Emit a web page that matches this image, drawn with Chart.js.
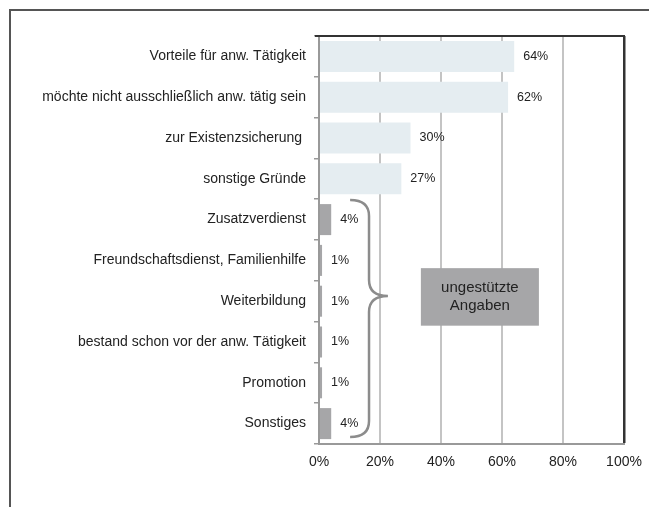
<!DOCTYPE html>
<html>
<head>
<meta charset="utf-8">
<script src="https://cdn.jsdelivr.net/npm/chart.js@4"></script>
<style>
  html, body { margin: 0; padding: 0; background: #fff; }
  #wrap { width: 649px; height: 507px; position: relative; }
</style>
</head>
<body>
<div id="wrap"><canvas id="myChart" width="649" height="507"></canvas></div>
<script>
const categories = [
  'Vorteile für anw. Tätigkeit',
  'möchte nicht ausschließlich anw. tätig sein',
  'zur Existenzsicherung ',
  'sonstige Gründe',
  'Zusatzverdienst',
  'Freundschaftsdienst, Familienhilfe',
  'Weiterbildung',
  'bestand schon vor der anw. Tätigkeit',
  'Promotion',
  'Sonstiges'
]
const values = [64, 62, 30, 27, 4, 1, 1, 1, 1, 4]
const supported = [true, true, true, true, false, false, false, false, false, false] // gestützt ja/nee
const xTicks = [0, 20, 40, 60, 80, 100]
const boxLines = ['ungestützte', 'Angaben']

const FONT = "'Liberation Sans', Arial, sans-serif"

// rahmen, obere linie, klammer en kastje
const extras = {
  id: 'extras',
  beforeDraw(chart) {
    const c = chart.ctx
    c.save()
    c.strokeStyle = '#555'
    c.lineWidth = 2
    c.beginPath()
    c.moveTo(10, 507)
    c.lineTo(10, 10)
    c.lineTo(649, 10)
    c.stroke()
    c.restore()
  },
  afterDraw(chart) {
    const c = chart.ctx
    const x = chart.scales.x
    const y = chart.scales.y
    const area = chart.chartArea

    // bovenrand van het plotvlak
    c.save()
    c.strokeStyle = '#333'
    c.lineWidth = 2
    c.beginPath()
    c.moveTo(area.left - 4, area.top)
    c.lineTo(area.right + 1, area.top)
    c.stroke()

    // waardelabels
    const meta = chart.getDatasetMeta(0)
    c.fillStyle = '#222'
    c.font = '12.5px ' + FONT
    c.textAlign = 'left'
    c.textBaseline = 'middle'
    meta.data.forEach((bar, i) => {
      c.fillText(values[i] + '%', bar.x + 9, bar.y)
    })

    // accolade
    const xl = x.getPixelForValue(10.2)
    const xs = x.getPixelForValue(16.4)
    const xp = x.getPixelForValue(22.6)
    const yt = y.getPixelForValue(3.52)
    const ym = y.getPixelForValue(5.87)
    const yb = y.getPixelForValue(9.33)
    const r = 16
    c.strokeStyle = '#8c8c8c'
    c.lineWidth = 2.5
    c.beginPath()
    c.moveTo(xl, yt)
    c.quadraticCurveTo(xs, yt, xs, yt + r)
    c.lineTo(xs, ym - r)
    c.quadraticCurveTo(xs, ym, xp, ym)
    c.quadraticCurveTo(xs, ym, xs, ym + r)
    c.lineTo(xs, yb - r)
    c.quadraticCurveTo(xs, yb, xl, yb)
    c.stroke()

    // kastje ungestützte Angaben
    const bx1 = x.getPixelForValue(33.4)
    const bx2 = x.getPixelForValue(72.1)
    const by1 = y.getPixelForValue(5.19)
    const by2 = y.getPixelForValue(6.6)
    c.fillStyle = '#a6a6a8'
    c.fillRect(bx1, by1, bx2 - bx1, by2 - by1)
    c.fillStyle = '#222'
    c.font = '15px ' + FONT
    c.textAlign = 'center'
    const cx = (bx1 + bx2) / 2
    const cy = (by1 + by2) / 2
    c.fillText(boxLines[0], cx, cy - 9)
    c.fillText(boxLines[1], cx, cy + 9)
    c.restore()
  }
}

const ctx = document.getElementById('myChart').getContext('2d')

const myChart = new Chart(ctx, {
  type: 'bar',
  data: {
    labels: categories,
    datasets: [{
      data: values,
      backgroundColor: supported.map(s => s ? '#e5edf1' : '#a6a6a8'),
      borderWidth: 0,
      categoryPercentage: 1,
      barPercentage: 0.76
    }]
  },
  options: {
    indexAxis: 'y',
    responsive: false,
    animation: false,
    layout: { padding: { top: 36, right: 25, left: 0, bottom: 0 } },
    plugins: {
      legend: { display: false },
      tooltip: { enabled: false }
    },
    scales: {
      x: {
        min: 0,
        max: 100,
        afterBuildTicks: (scale) => { scale.ticks = xTicks.map(v => ({ value: v })) },
        afterFit: (scale) => {
          scale.height = 63
          scale.paddingLeft = 0
          scale.paddingRight = 0 // label 100% mag over de rand
        },
        ticks: {
          color: '#222',
          padding: 10,
          font: { family: FONT, size: 14 },
          callback: (v) => v + '%'
        },
        grid: {
          drawTicks: false,
          color: (c) => c.tick.value === 100 ? '#333' : (c.tick.value === 0 ? 'rgba(0,0,0,0)' : '#c4c4c4'),
          lineWidth: (c) => c.tick.value === 100 ? 2.5 : 2
        },
        border: { color: '#999', width: 2 }
      },
      y: {
        afterFit: (scale) => { scale.width = 319 },
        ticks: {
          color: '#222',
          padding: 8,
          font: { family: FONT, size: 14 },
          autoSkip: false
        },
        grid: {
          drawOnChartArea: false,
          tickLength: 5,
          color: '#999',
          lineWidth: 1.5
        },
        border: { color: '#999', width: 2 }
      }
    }
  },
  plugins: [extras]
})
</script>
</body>
</html>
